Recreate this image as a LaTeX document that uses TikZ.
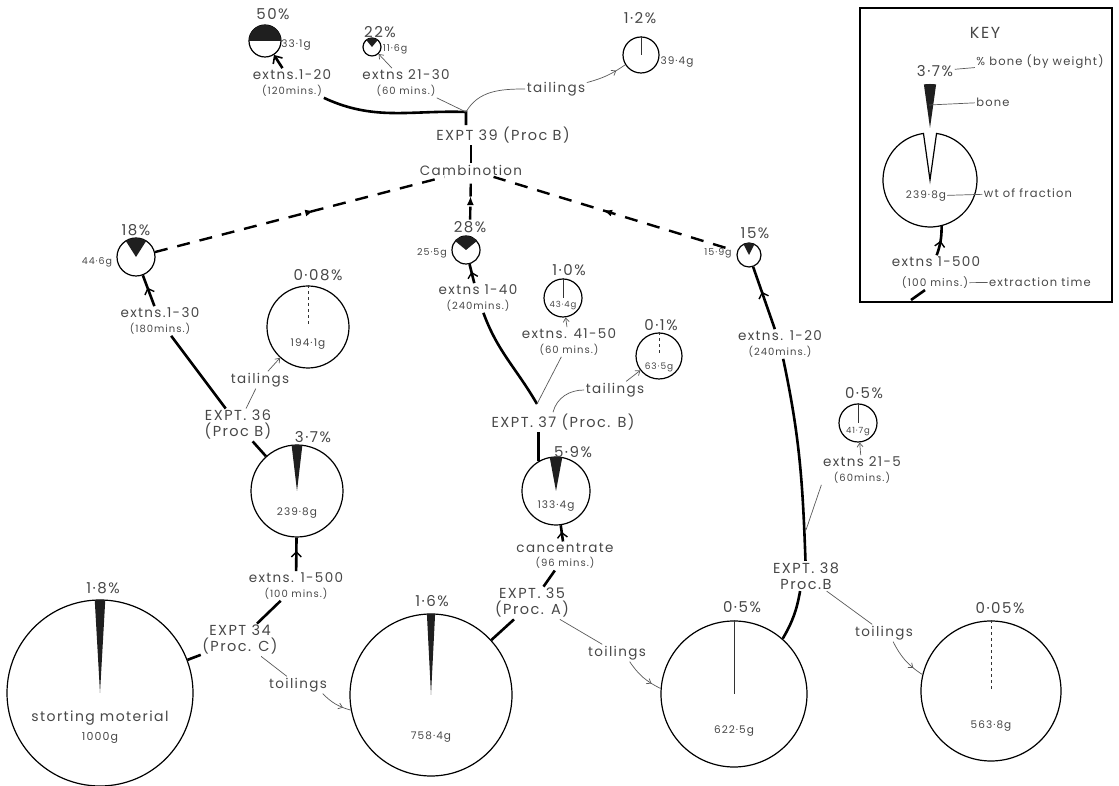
\documentclass[tikz,border=0pt]{standalone}
\usepackage{fontspec}
\setmainfont{Poppins}[LetterSpace=10]
\usepackage{tikz}
\usetikzlibrary{arrows.meta,decorations.markings}

\definecolor{ink}{gray}{0.28}
\newcommand{\mins}[1]{{\fontsize{10}{11}\selectfont #1}}
\newcommand{\bonewedge}[3]{\fill[bone] (#1.center) -- ++(90-#3:#2) arc[start angle=90-#3, end angle=90+#3, radius=#2] -- cycle;}

\begin{document}
\begin{tikzpicture}[x=1pt, y=1pt,
      pie/.style={circle, draw, line width=1.2pt, inner sep=0pt},
      bone/.style={fill=black!88},
      boneline/.style={line width=0.9pt, black!80},
      lbl/.style={font=\fontsize{13.5}{14.5}\selectfont, text=ink, align=center, inner sep=1.5pt},
      expt/.style={lbl, font=\fontsize{14.5}{16}\selectfont},
      pct/.style={lbl, font=\fontsize{15}{16}\selectfont},
      wt/.style={lbl, font=\fontsize{10.5}{11}\selectfont, inner sep=1pt},
      keytxt/.style={lbl, font=\fontsize{11.5}{12}\selectfont},
      flow/.style={line width=2.6pt},
      midarrow/.style={postaction={decorate}, decoration={markings, mark=at position #1 with {\arrow{Straight Barb[length=5pt,width=10pt,line width=1.4pt]}}}},
      midarrow/.default=0.6,
      leader/.style={line width=0.7pt, black!65},
      leadarrow/.style={leader, -{Straight Barb[length=4pt,width=6pt,line width=0.7pt]}},
      leadmid/.style={leader, postaction={decorate}, decoration={markings, mark=at position 0.75 with {\arrow{Straight Barb[length=4pt,width=6pt,line width=0.7pt]}}}},
      dashflow/.style={line width=2.4pt, dash pattern=on 13pt off 10pt, postaction={decorate}, decoration={markings, mark=at position 0.55 with {\arrow{Latex[length=9pt,width=7pt]}}}}]
    \useasboundingbox (0,0) rectangle (1119,786);
    \node[pie, minimum size=186pt] (c1000) at (100,93) {};
    \node[pie, minimum size=162pt] (c758) at (431,91) {};
    \node[pie, minimum size=146pt] (c622) at (734,92) {};
    \node[pie, minimum size=140pt] (c564) at (991,95) {};
    \node[pie, minimum size=92pt] (c240) at (297,295) {};
    \node[pie, minimum size=68pt] (c133) at (556,295) {};
    \node[pie, minimum size=38pt] (c45) at (136,529) {};
    \node[pie, minimum size=82pt] (c194) at (308,459) {};
    \node[pie, minimum size=28pt] (c26) at (466,536) {};
    \node[pie, minimum size=38pt] (c43) at (563,488) {};
    \node[pie, minimum size=46pt] (c64) at (659,430) {};
    \node[pie, minimum size=24pt] (c16) at (749,531) {};
    \node[pie, minimum size=38pt] (c42) at (858,363) {};
    \node[pie, minimum size=32pt] (c33) at (265,745) {};
    \node[pie, minimum size=18pt] (c12) at (372,739) {};
    \node[pie, minimum size=36pt] (c39) at (641,731) {};
    \bonewedge{c1000}{93}{3.24} \bonewedge{c758}{81}{2.9} \bonewedge{c240}{46}{6.7}
    \bonewedge{c133}{34}{10.6} \bonewedge{c45}{19}{32.4} \bonewedge{c26}{14}{50.4}
    \bonewedge{c16}{12}{27} \bonewedge{c33}{16}{90} \bonewedge{c12}{9}{39.6}
    \draw[boneline] (c622.north) -- (c622.center); \draw[boneline] (c43.north) -- (c43.center);
    \draw[boneline] (c42.north) -- (c42.center); \draw[boneline] (c39.north) -- (c39.center);
    \draw[boneline, dashed] (c564.north) -- (c564.center); \draw[boneline, dashed] (c194.north) -- (c194.center);
    \draw[boneline, dashed] (c64.north) -- (c64.center);
    \node[pct] (p1000) at (103,198) {1·8\%};
    \node[pct] (p758) at (432,185) {1·6\%};
    \node[pct] (p622) at (742,179) {0·5\%};
    \node[pct] (p564) at (1000,178) {0·05\%};
    \node[pct] (p240) at (313,349) {3·7\%};
    \node[pct] (p133) at (573,334) {5·9\%};
    \node[pct] (p45) at (136,556) {18\%};
    \node[pct] (p194) at (318,511) {0·08\%};
    \node[pct] (p26) at (470,559) {28\%};
    \node[pct] (p43) at (569,516) {1·0\%};
    \node[pct] (p64) at (661,461) {0·1\%};
    \node[pct] (p16) at (755,553) {15\%};
    \node[pct] (p42) at (864,393) {0·5\%};
    \node[pct] (p33) at (273,772) {50\%};
    \node[pct] (p12) at (380,754) {22\%};
    \node[pct] (p39) at (640,768) {1·2\%};
    \node[lbl, font=\fontsize{14}{15}\selectfont] (w1000t) at (100,68) {storting moterial};
    \node[wt, font=\fontsize{11}{12}\selectfont] (w1000) at (100,48) {1000g};
    \node[wt] (w758) at (431,49) {758·4g};
    \node[wt] (w622) at (734,55) {622·5g};
    \node[wt] (w564) at (991,60) {563·8g};
    \node[wt] (w240) at (297,273) {239·8g};
    \node[wt] (w133) at (556,280) {133·4g};
    \node[wt] (w194) at (308,442) {194·1g};
    \node[wt, font=\fontsize{8.5}{9}\selectfont] (w43) at (563,480) {43·4g};
    \node[wt, font=\fontsize{9}{10}\selectfont] (w64) at (659,419) {63·5g};
    \node[wt, font=\fontsize{8.5}{9}\selectfont] (w42) at (858,354) {41·7g};
    \node[wt, font=\fontsize{9.5}{10}\selectfont] (w45) at (97,524) {44·6g};
    \node[wt, font=\fontsize{9.5}{10}\selectfont] (w26) at (432,533) {25·5g};
    \node[wt, font=\fontsize{9.5}{10}\selectfont] (w16) at (718,533) {15·9g};
    \node[wt] (w33) at (296,741) {33·1g};
    \node[wt, font=\fontsize{9.5}{10}\selectfont] (w12) at (395,737) {11·6g};
    \node[wt] (w39) at (677,724) {39·4g};
    \node[expt] (e34) at (240,146) {EXPT 34\\(Proc. C)};
    \node[expt] (e35) at (532,183) {EXPT. 35\\(Proc. A)};
    \node[expt] (e36) at (238,361) {EXPT. 36\\(Proc B)};
    \node[expt] (e37) at (563,364) {EXPT. 37 (Proc. B)};
    \node[expt] (e38) at (806,210) {EXPT. 38\\Proc.B};
    \node[expt] (e39) at (503,651) {EXPT 39 (Proc B)};
    \node[lbl] (comb) at (471,616) {Cambinotion};
    \node[lbl] (x34) at (296,200) {extns. 1-500\\\mins{(100 mins.)}};
    \node[lbl] (conc) at (565,230) {cancentrate\\\mins{(96 mins.)}};
    \node[lbl] (x36) at (160,465) {extns.1-30\\\mins{(180mins.)}};
    \node[lbl] (x37a) at (478,488) {extns 1-40\\\mins{(240mins.)}};
    \node[lbl] (x37b) at (569,444) {extns. 41-50\\\mins{(60 mins.)}};
    \node[lbl] (x38a) at (780,442) {extns. 1-20\\\mins{(240mins.)}};
    \node[lbl] (x38b) at (862,316) {extns 21-5\\\mins{(60mins.)}};
    \node[lbl] (x39a) at (292,703) {extns.1-20\\\mins{(120mins.)}};
    \node[lbl] (x39b) at (406,703) {extns 21-30\\\mins{(60 mins.)}};
    \node[lbl] (t34) at (298,101) {toilings};
    \node[lbl] (t35) at (617,133) {toilings};
    \node[lbl] (t38) at (884,153) {toilings};
    \node[lbl] (t36) at (260,406) {tailings};
    \node[lbl] (t37) at (615,396) {tailings};
    \node[lbl] (t39) at (556,697) {tailings};
    \coordinate (j37) at (537,382);
    \coordinate (j38) at (806,256);
    \coordinate (j39) at (466,674);
    \draw[flow] (c1000) -- (e34); \draw[flow] (e34) -- (x34); \draw[flow, midarrow] (x34) -- (c240);
    \draw[flow] (c758) -- (e35); \draw[flow] (e35) -- (conc); \draw[flow, midarrow] (conc) -- (c133);
    \draw[flow] (c622) to[bend right=10] (e38); \draw[flow] (e38) to[out=92, in=-78] (x38a);
    \draw[flow, midarrow] (x38a) -- (c16);
    \draw[flow] (c240) -- (e36); \draw[flow] (e36) -- (x36); \draw[flow, midarrow] (x36) -- (c45);
    \draw[flow] (c133.120) -- (c133.120 |- e37.south);
    \draw[flow] (j37) to[out=120, in=-70] (x37a); \draw[flow, midarrow] (x37a) -- (c26);
    \draw[flow] (comb.north) -- (comb.north |- e39.south);
    \draw[flow] (e39.north -| j39) -- (j39) to[out=178, in=-25] (x39a);
    \draw[flow, -{Straight Barb[length=6pt,width=11pt,line width=1.6pt]}] (x39a) -- (c33);
    \draw[leader] (j37) -- (x37b); \draw[leadarrow] (x37b) -- (c43);
    \draw[leader] (j38) -- (x38b.south west); \draw[leadarrow] (x38b) -- (c42);
    \draw[leader] (j39) -- (x39b); \draw[leadarrow] (x39b) -- (c12);
    \draw[leader] (e34) -- (t34); \draw[leadmid] (t34) to[bend right=15] (c758);
    \draw[leader] (e35) -- (t35); \draw[leadmid] (t35) to[bend right=15] (c622);
    \draw[leader] (e38) -- (t38); \draw[leadmid] (t38) to[bend right=15] (c564);
    \draw[leader] (e36) -- (t36); \draw[leadarrow] (t36) -- (c194);
    \draw[leader] ([xshift=-10pt]e37.north) to[out=75, in=180] (t37); \draw[leadarrow] (t37) -- (c64);
    \draw[leader] (j39) to[out=60, in=180] (t39); \draw[leadmid] (t39) to[bend right=10] (c39);
    \draw[dashflow] (c45) -- (comb); \draw[dashflow] (p26) -- (comb);
    \draw[dashflow, shorten <=12pt] (c16) -- (comb);
    \draw[line width=1.6pt] (860,484) rectangle (1112,778);
    \node[lbl, font=\fontsize{16}{17}\selectfont] (key) at (985,753) {KEY};
    \node[circle, minimum size=94pt, inner sep=0pt] (ckey) at (930,606) {};
    \draw[line width=1.2pt] (ckey.center) -- ++(82:47) arc[start angle=82, end angle=-262, radius=47] -- cycle;
    \fill[bone] ([yshift=52pt]ckey.center) -- ++(82:44) arc[start angle=82, end angle=98, radius=44] -- cycle;
    \node[pct] (kpct) at (935,715) {3·7\%};
    \node[keytxt] (kpctl) at (1040,724) {\% bone (by weight)};
    \coordinate (kbone) at (929,681);
    \node[keytxt] (kbonel) at (993,684) {bone};
    \node[wt] (kwt) at (926,590) {239·8g};
    \node[keytxt] (kwtl) at (1028,593) {wt of fraction};
    \node[lbl] (kx1) at (936,524) {extns 1-500};
    \node[wt] (kx2) at (935,503) {(100 mins.)};
    \node[keytxt] (kextl) at (1040,504) {extraction time};
    \coordinate (kstart) at (911,486);
    \draw[leader] (kpct) -- (kpctl); \draw[leader] (kbone) -- (kbonel);
    \draw[leader] (kwt) -- (kwtl); \draw[leader] (kx2) -- (kextl);
    \draw[flow] (kstart) -- (kx2); \draw[flow, midarrow=0.5] (kx1) to[bend right=10] (ckey);
  \end{tikzpicture}
\end{document}
